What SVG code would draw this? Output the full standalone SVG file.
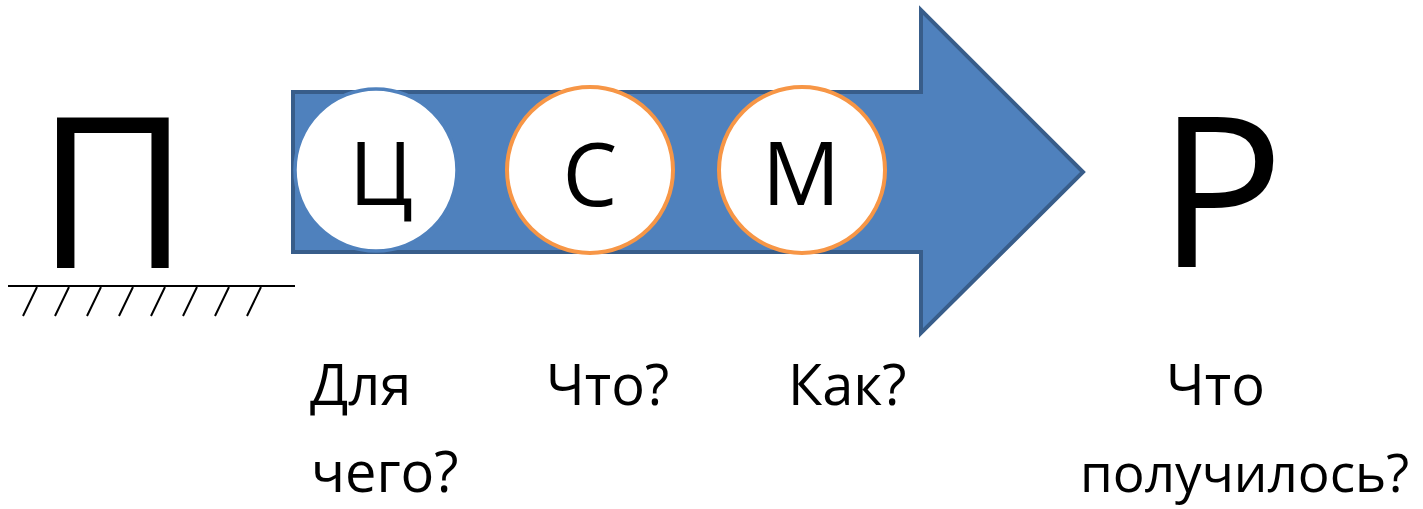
<svg xmlns="http://www.w3.org/2000/svg" width="1423" height="509" viewBox="0 0 1423 509">
<style>
.t{font-family:"Open Sans","Liberation Sans",sans-serif;fill:#000}
.lbl{font-size:56px}
.big{font-size:210px;text-anchor:middle}
.mid{font-size:87px;text-anchor:middle}
.hatch{stroke:#000;stroke-width:2;fill:none}
</style>
<rect width="1423" height="509" fill="#fff"/>
<g id="ground">
<text class="t big" x="113" y="268">П</text>
<path class="hatch" d="M8 286H295 M37 287L23 316 M69 287L55 316 M101 287L87 316 M133 287L119 316 M165 287L151 316 M197 287L183 316 M229 287L215 316 M261 287L247 316"/>
</g>
<g id="connectors">
<polygon points="293,92 921,92 921,10 1083,172 921,333 921,252 293,252" fill="#4f81bd" stroke="#385d8a" stroke-width="4" stroke-linejoin="miter"/>
</g>
<g id="node-c">
<circle cx="376" cy="170" r="81" fill="#fff" stroke="#4f81bd" stroke-width="3.5"/>
<text class="t mid" x="381" y="205">Ц</text>
</g>
<g id="node-s">
<circle cx="590" cy="170" r="83" fill="#fff" stroke="#f79646" stroke-width="4"/>
<text class="t mid" x="590" y="206">С</text>
</g>
<g id="node-m">
<circle cx="802" cy="170" r="83" fill="#fff" stroke="#f79646" stroke-width="4"/>
<text class="t mid" x="801" y="205">М</text>
</g>
<g id="result">
<text class="t big" x="1221" y="267">Р</text>
</g>
<g id="labels">
<text class="t lbl" x="310" y="405">Для</text>
<text class="t lbl" x="311" y="492">чего?</text>
<text class="t lbl" x="546" y="405">Что?</text>
<text class="t lbl" x="788" y="405">Как?</text>
<text class="t lbl" x="1166" y="405">Что</text>
<text class="t" x="1080" y="492" font-size="53">получилось?</text>
</g>
</svg>
